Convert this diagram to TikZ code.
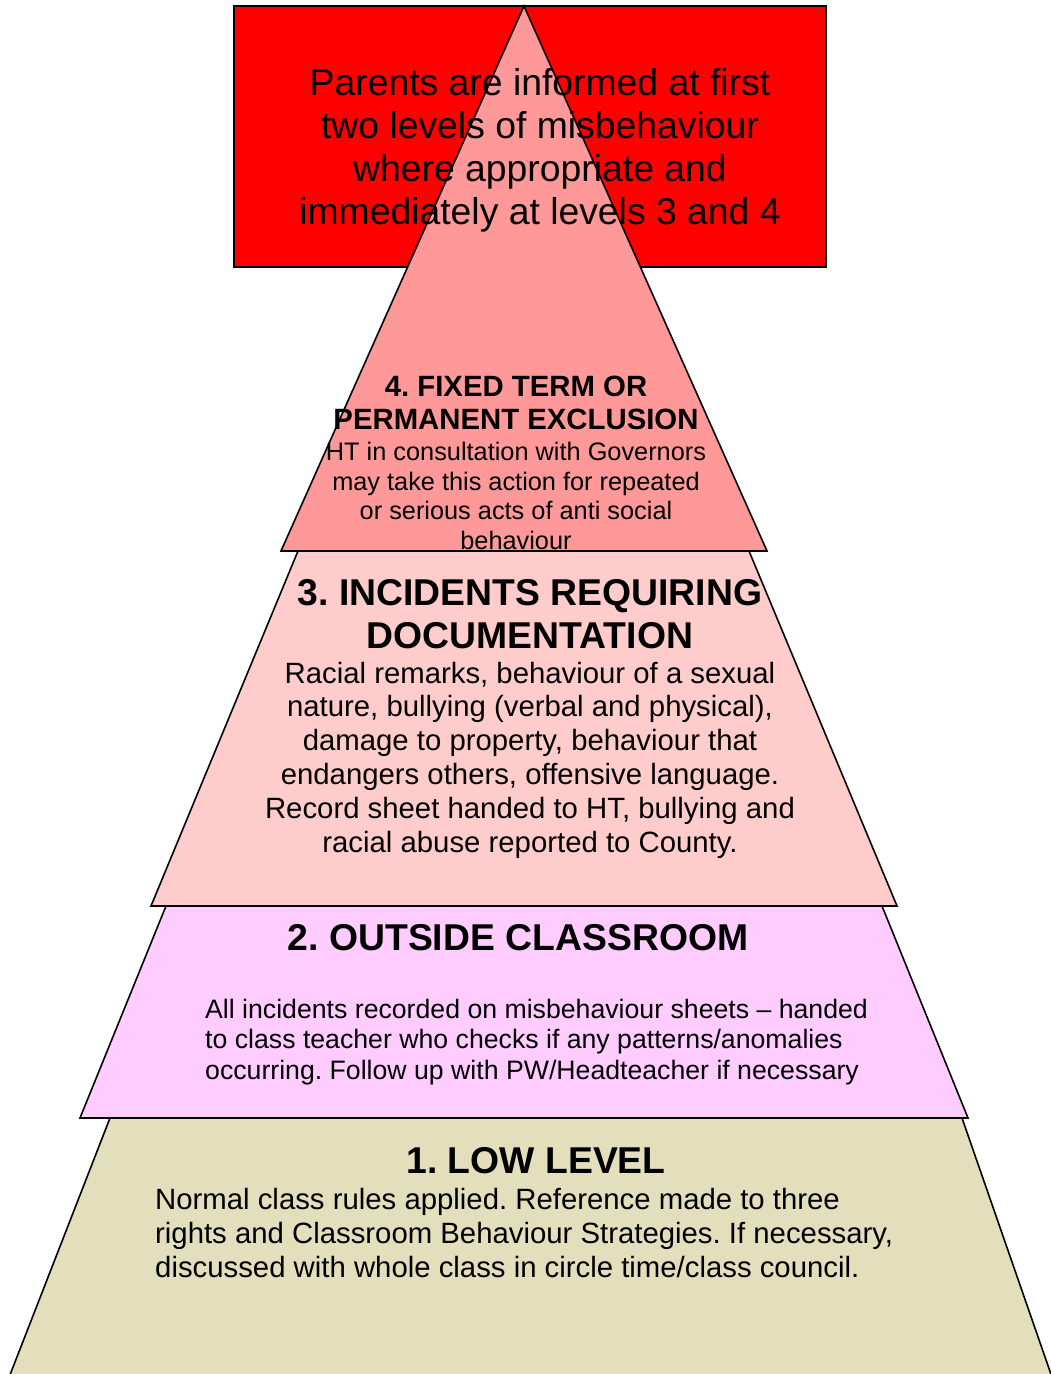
\documentclass[tikz,border=0pt]{standalone}
\usepackage{fontspec}
\setmainfont{Liberation Sans}
\definecolor{lvfour}{HTML}{FF9999}
\definecolor{lvthree}{HTML}{FFCCCC}
\definecolor{lvtwo}{HTML}{FFCCFF}
\definecolor{lvone}{HTML}{E3DFBD}
\frenchspacing
\begin{document}
\frenchspacing
\begin{tikzpicture}[x=1pt,y=-1pt,
  shapeline/.style={draw=black,line width=1.6pt,line join=miter},
  txt/.style={inner sep=0pt,align=center},
  txtl/.style={inner sep=0pt,align=left,anchor=west},
  bigbold/.style={font=\fontsize{37.33}{42.9}\selectfont\bfseries\frenchspacing},
  midtext/.style={font=\fontsize{29.33}{33.8}\selectfont\frenchspacing}]
\clip (0,0) rectangle (1051,1374);
\fill[white] (0,0) rectangle (1051,1374);
% top box
\draw[shapeline,fill=red] (234,6) rectangle (826,267);
% level 4
\draw[shapeline,fill=lvfour] (524,6) -- (767,551) -- (281,551) -- cycle;
\node[txt,font=\fontsize{29.33}{33}\selectfont\bfseries\frenchspacing] (h4) at (516,403) {4. FIXED TERM OR\\PERMANENT EXCLUSION};
\node[txt,font=\fontsize{25.33}{29.5}\selectfont\frenchspacing] (b4) at (516,496) {HT in consultation with Governors\\may take this action for repeated\\or serious acts of anti social\\behaviour};
% level 3
\draw[shapeline,fill=lvthree] (298,551) -- (749,551) -- (897,906) -- (151,906) -- cycle;
\node[txt,bigbold] (h3) at (530,614) {3. INCIDENTS REQUIRING\\DOCUMENTATION};
\node[txt,midtext] (b3) at (530,760) {Racial remarks, behaviour of a sexual\\nature, bullying (verbal and physical),\\damage to property, behaviour that\\endangers others, offensive language.\\Record sheet handed to HT, bullying and\\racial abuse reported to County.};
% level 2
\draw[shapeline,fill=lvtwo] (166,906) -- (882,906) -- (968,1118) -- (80,1118) -- cycle;
\node[txt,bigbold] (h2) at (518,938) {2. OUTSIDE CLASSROOM};
\node[txtl,font=\fontsize{26.67}{30.9}\selectfont\frenchspacing] (b2) at (205,1042) {All incidents recorded on misbehaviour sheets \textendash{} handed\\to class teacher who checks if any patterns/anomalies\\occurring. Follow up with PW/Headteacher if necessary};
% level 1
\draw[shapeline,fill=lvone] (110,1118) -- (962,1118) -- (1053,1380) -- (8,1380) -- cycle;
\node[txt,bigbold] (h1) at (536,1161) {1. LOW LEVEL};
\node[txtl,midtext] (b1) at (155,1233) {Normal class rules applied. Reference made to three\\rights and Classroom Behaviour Strategies. If necessary,\\discussed with whole class in circle time/class council.};
% top text
\node[txt,font=\fontsize{37.33}{43}\selectfont\frenchspacing] (parents) at (540,150) {Parents are informed at first\\two levels of misbehaviour\\where appropriate and\\immediately at levels 3 and 4};
\end{tikzpicture}
\end{document}
